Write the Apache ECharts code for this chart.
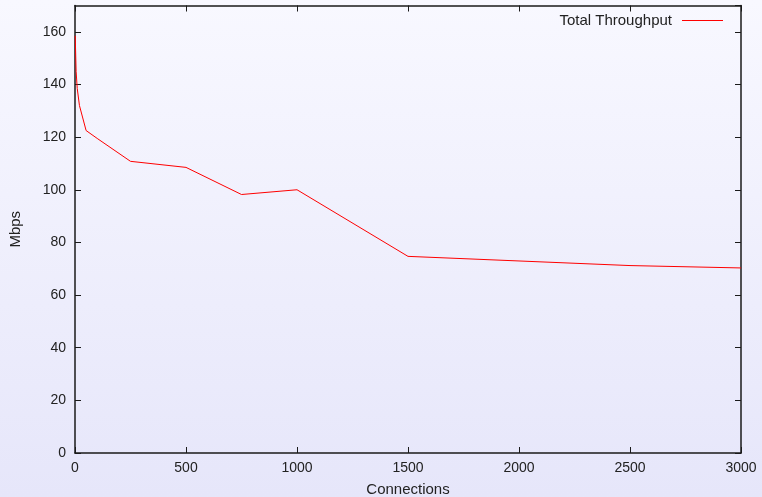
<!DOCTYPE html>
<html>
<head>
<meta charset="utf-8">
<script src="https://cdn.jsdelivr.net/npm/echarts@6/dist/echarts.min.js"></script>
<style>
  html, body { margin: 0; padding: 0; }
  #chart { width: 762px; height: 497px; }
</style>
</head>
<body>
<div id="chart"></div>
<script>
// connections and measured throughput (Mbps)
const connections = [1, 5, 10, 20, 50, 100, 250, 500, 750, 1000, 1500, 2500, 3000];
const throughput = [158.5, 145, 138.5, 132, 122.5, 119.5, 110.8, 108.5, 98.2, 100, 74.7, 71.2, 70.3];
const xTicks = [0, 500, 1000, 1500, 2000, 2500, 3000];
const yTicks = [0, 20, 40, 60, 80, 100, 120, 140, 160];

const font = "Liberation Sans, Arial, sans-serif";
const axisColor = "#1a1a1a";

const chart = echarts.init(document.getElementById("chart"));

const mirrorAxis = {
  axisLine: { show: true, onZero: false, lineStyle: { color: axisColor, width: 1.5 } },
  axisTick: { show: true, inside: true, length: 6, lineStyle: { color: axisColor } },
  axisLabel: { show: false },
  splitLine: { show: false },
};

chart.setOption({
  backgroundColor: new echarts.graphic.LinearGradient(0, 0, 0, 1, [
    { offset: 0, color: "#f8f8ff" },
    { offset: 1, color: "#e6e6fa" },
  ]),
  animation: false,
  grid: { left: 75, right: 21, top: 5.5, bottom: 44, outerBoundsMode: "none", containLabel: false },
  legend: {
    right: 34,
    top: 8,
    align: "right",
    itemWidth: 41,
    itemHeight: 14,
    icon: "path://M0,6.5 L41,6.5 L41,7.5 L0,7.5 Z",
    textStyle: { fontFamily: font, fontSize: 15, color: "#222", padding: [0, 5, 0, 0] },
    data: [{ name: "Total Throughput", itemStyle: { color: "#ff0000" } }],
  },
  xAxis: [
    {
      type: "value",
      min: 0,
      max: 3000,
      interval: 500,
      name: "Connections",
      nameLocation: "middle",
      nameGap: 29,
      nameTextStyle: { fontFamily: font, fontSize: 15, color: "#222" },
      axisLine: { show: true, onZero: false, lineStyle: { color: axisColor, width: 1.5 } },
      axisTick: { show: true, inside: true, length: 6, lineStyle: { color: axisColor } },
      axisLabel: {
        fontFamily: font, fontSize: 14, color: "#222", margin: 8,
        formatter: (v) => (xTicks.includes(v) ? String(v) : ""),
      },
      splitLine: { show: false },
    },
    Object.assign({ type: "value", min: 0, max: 3000, interval: 500, position: "top" }, mirrorAxis),
  ],
  yAxis: [
    {
      type: "value",
      min: 0,
      max: 170,
      interval: 20,
      name: "Mbps",
      nameLocation: "middle",
      nameGap: 52,
      nameTextStyle: { fontFamily: font, fontSize: 15, color: "#222" },
      axisLine: { show: true, onZero: false, lineStyle: { color: axisColor, width: 1.5 } },
      axisTick: { show: true, inside: true, length: 6, lineStyle: { color: axisColor } },
      axisLabel: {
        fontFamily: font, fontSize: 14, color: "#222", margin: 9,
        showMaxLabel: false,
        formatter: (v) => (yTicks.includes(v) ? String(v) : ""),
      },
      splitLine: { show: false },
    },
    Object.assign({ type: "value", min: 0, max: 170, interval: 20, position: "right" }, mirrorAxis),
  ],
  series: [
    {
      name: "Total Throughput",
      type: "line",
      showSymbol: false,
      color: "#ff0000",
      lineStyle: { color: "#ff0000", width: 1 },
      data: connections.map((c, i) => [c, throughput[i]]),
    },
  ],
});
</script>
</body>
</html>
